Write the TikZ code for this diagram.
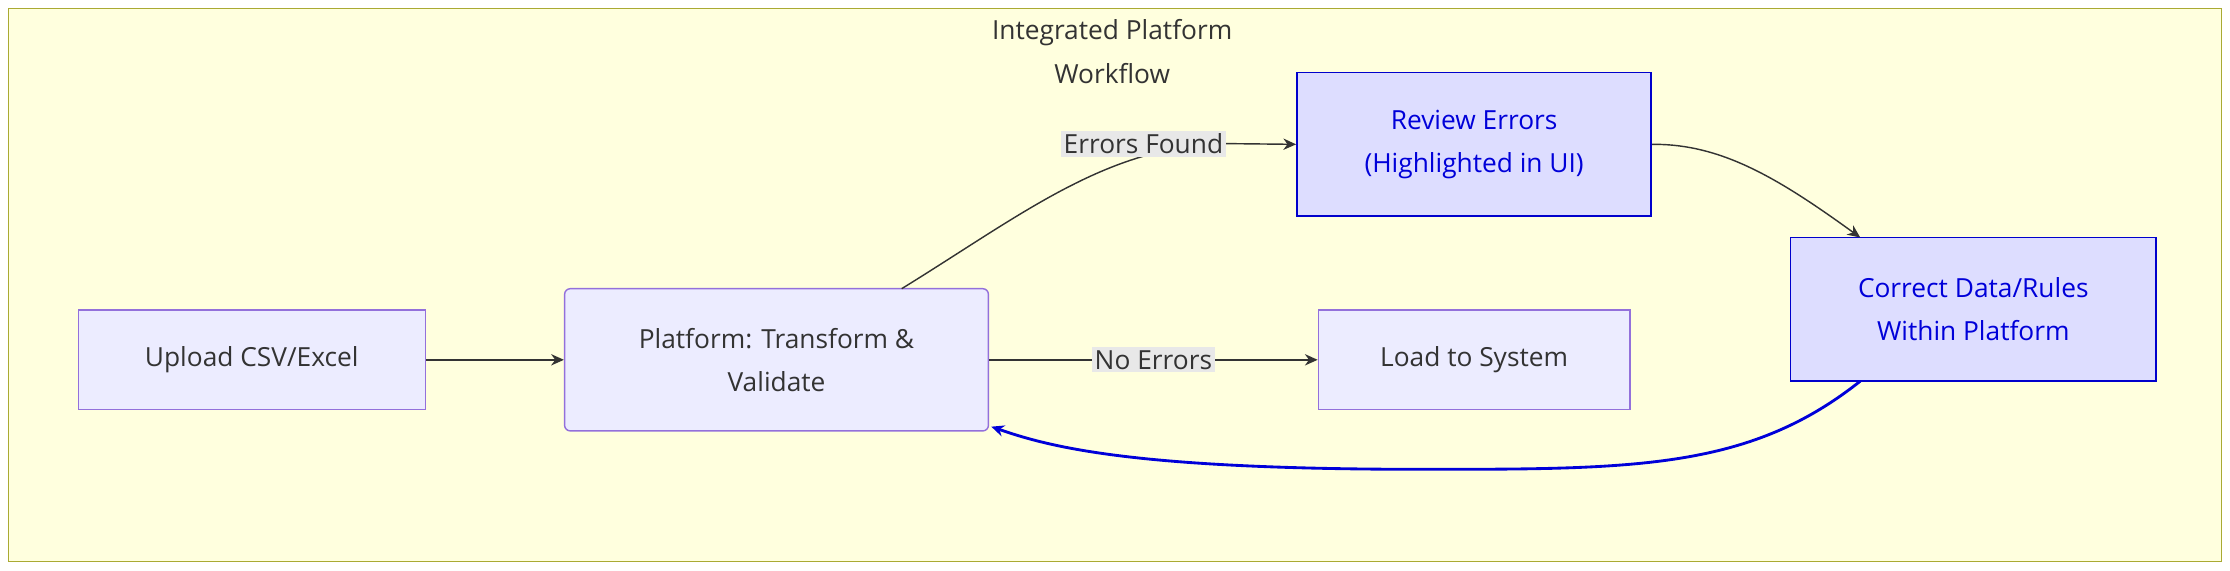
\documentclass[tikz,border=0pt]{standalone}
\usepackage{fontspec}
\setmainfont{Open Sans}
\usetikzlibrary{arrows.meta}
\definecolor{bgY}{HTML}{FFFFDE}
\definecolor{bdY}{HTML}{AAAA33}
\definecolor{nf}{HTML}{ECECFF}
\definecolor{nd}{HTML}{9370DB}
\definecolor{bf}{HTML}{DDDDFF}
\definecolor{tx}{HTML}{333333}
\definecolor{lb}{HTML}{E8E8E8}
\tikzset{
 box/.style={draw=nd,fill=nf,line width=1pt,align=center,text=tx,font=\fontsize{18.5}{30}\selectfont,inner sep=0pt},
 bbox/.style={draw=blue!80!black,fill=bf,line width=1.3pt,align=center,text=blue!85!black,font=\fontsize{18.5}{30}\selectfont,inner sep=0pt},
 arr/.style={draw=tx,line width=1pt,-{Stealth[length=9pt,width=8pt]}},
 lab/.style={fill=lb,text=tx,font=\fontsize{18.5}{22}\selectfont,inner sep=2pt}
}
\begin{document}
\begin{tikzpicture}[x=1pt,y=-1pt]
\useasboundingbox (0,0) rectangle (1568,401);
\draw[fill=bgY,draw=bdY,line width=1pt] (6,6) rectangle (1562,395);
\node[text=tx,font=\fontsize{18.5}{31}\selectfont,align=center] (title) at (782,36) {Integrated Platform\\Workflow};
\node[box,minimum width=244pt,minimum height=70pt] (up) at (177,253) {Upload CSV/Excel};
\node[box,rounded corners=4pt,minimum width=298pt,minimum height=100pt] (pf) at (546,253) {Platform: Transform \&\\Validate};
\node[box,minimum width=219pt,minimum height=70pt] (ld) at (1036.5,253) {Load to System};
\node[bbox,minimum width=249pt,minimum height=101pt] (rv) at (1036.5,101.5) {Review Errors\\(Highlighted in UI)};
\node[bbox,minimum width=257pt,minimum height=101pt] (cr) at (1387.5,217.5) {Correct Data/Rules\\Within Platform};
\draw[arr] (up) -- (pf);
\draw[arr] (pf) -- node[lab]{No Errors} (ld);
\coordinate (a1) at (634,203);
\coordinate (a2) at (865,101);
\draw[arr] (a1) .. controls (720,150) and (780,101) .. (a2) -- (rv.west);
\node[lab] (ef) at (804,101) {Errors Found};
\coordinate (b1) at (1308,167);
\draw[arr] (rv.east) .. controls (1210,101) and (1250,125) .. (b1);
\coordinate (c1) at (1308,268);
\coordinate (c2) at (697,300);
\draw[draw=blue!85!black,line width=2pt,-{Stealth[length=9pt,width=8pt]}] (c1) .. controls (1230,330) and (1150,330) .. (1000,330) .. controls (800,330) and (740,315) .. (c2);
\end{tikzpicture}
\end{document}
